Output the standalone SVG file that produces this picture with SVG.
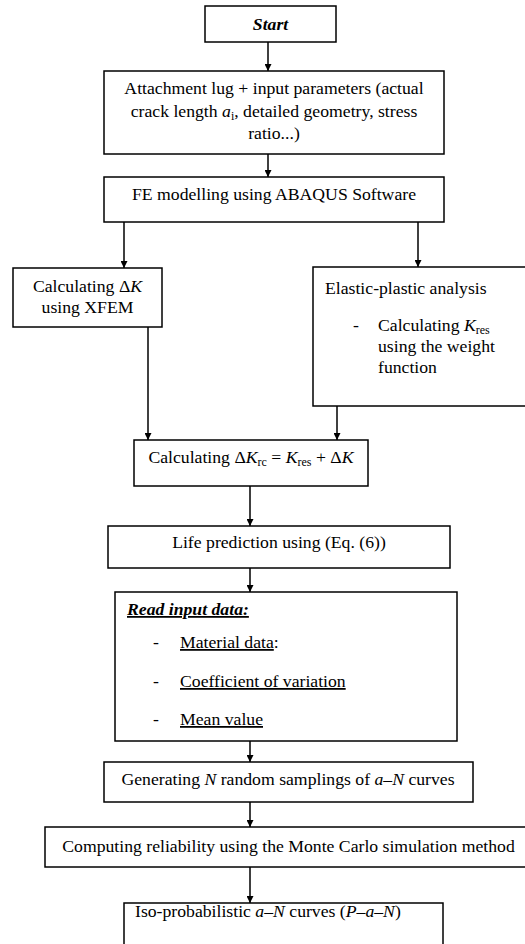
<svg xmlns="http://www.w3.org/2000/svg" width="525" height="944" viewBox="0 0 525 944" font-family="'Liberation Serif', 'Times New Roman', Times, 'DejaVu Serif', serif">
<style>
.box{fill:#fff;stroke:#000;stroke-width:1.5}
.t{font-family:'Liberation Serif','Times New Roman',Times,'DejaVu Serif',serif;font-size:17.7px;fill:#000}
.c{text-anchor:middle}
.i{font-style:italic}
.bi{font-weight:bold;font-style:italic}
.u{text-decoration:underline}
.sub{font-size:12px}
.con{stroke:#000;stroke-width:1.5;fill:none;marker-end:url(#ah)}
</style>
<defs>
<marker id="ah" viewBox="0 0 10 10" refX="10" refY="5" markerWidth="7" markerHeight="7" markerUnits="userSpaceOnUse" orient="auto">
<path d="M0,0 L10,5 L0,10 z" fill="#000"/>
</marker>
</defs>
<rect width="525" height="944" fill="#fff"/>
<g id="connectors">
<line class="con" x1="268" y1="42" x2="268" y2="71"/>
<line class="con" x1="268" y1="154" x2="268" y2="177"/>
<line class="con" x1="124" y1="222" x2="124" y2="268"/>
<line class="con" x1="418" y1="222" x2="418" y2="267"/>
<line class="con" x1="148" y1="327" x2="148" y2="440"/>
<line class="con" x1="337" y1="406" x2="337" y2="440"/>
<line class="con" x1="250" y1="486" x2="250" y2="526"/>
<line class="con" x1="250" y1="568" x2="250" y2="592"/>
<line class="con" x1="250" y1="741" x2="250" y2="762"/>
<line class="con" x1="250" y1="802" x2="250" y2="827"/>
<line class="con" x1="250" y1="867" x2="250" y2="903"/>
</g>
<g id="start">
<rect class="box" x="205" y="6" width="131" height="36"/>
<text class="t c bi" x="270.5" y="30">Start</text>
</g>
<g id="input">
<rect class="box" x="104" y="71" width="340" height="83"/>
<text class="t c" x="274" y="94">Attachment lug + input parameters (actual</text>
<text class="t c" x="274" y="117">crack length <tspan class="i">a</tspan><tspan class="sub" dy="3">i</tspan><tspan dy="-3">, detailed geometry, stress</tspan></text>
<text class="t c" x="274" y="139">ratio...)</text>
</g>
<g id="fe">
<rect class="box" x="104" y="177" width="340" height="45"/>
<text class="t c" x="274" y="200">FE modelling using ABAQUS Software</text>
</g>
<g id="xfem">
<rect class="box" x="13" y="268" width="149" height="59"/>
<text class="t c" x="87.5" y="292">Calculating Δ<tspan class="i">K</tspan></text>
<text class="t c" x="87.5" y="313">using XFEM</text>
</g>
<g id="elastic">
<rect class="box" x="313" y="267" width="220" height="139"/>
<text class="t" x="325" y="294">Elastic-plastic analysis</text>
<text class="t" x="353" y="331">-</text>
<text class="t" x="378" y="331">Calculating <tspan class="i">K</tspan><tspan class="sub" dy="3">res</tspan></text>
<text class="t" x="378" y="352">using the weight</text>
<text class="t" x="378" y="373">function</text>
</g>
<g id="krc">
<rect class="box" x="134" y="440" width="234" height="46"/>
<text class="t c" x="251" y="463">Calculating Δ<tspan class="i">K</tspan><tspan class="sub" dy="3">rc</tspan><tspan dy="-3"> = </tspan><tspan class="i">K</tspan><tspan class="sub" dy="3">res</tspan><tspan dy="-3"> + Δ</tspan><tspan class="i">K</tspan></text>
</g>
<g id="life">
<rect class="box" x="108" y="526" width="342" height="42"/>
<text class="t c" x="279" y="548">Life prediction using (Eq. (6))</text>
</g>
<g id="read">
<rect class="box" x="115" y="592" width="342" height="149"/>
<text class="t bi u" x="127" y="615">Read input data:</text>
<text class="t" x="153" y="648">-</text>
<text class="t" x="180" y="648"><tspan class="u">Material data</tspan>:</text>
<text class="t" x="153" y="687">-</text>
<text class="t u" x="180" y="687">Coefficient of variation</text>
<text class="t" x="153" y="725">-</text>
<text class="t u" x="180" y="725">Mean value</text>
</g>
<g id="generating">
<rect class="box" x="104" y="762" width="369" height="40"/>
<text class="t c" x="288" y="785">Generating <tspan class="i">N</tspan> random samplings of <tspan class="i">a</tspan>–<tspan class="i">N</tspan> curves</text>
</g>
<g id="computing">
<rect class="box" x="45" y="827" width="490" height="40"/>
<text class="t c" x="288.5" y="852">Computing reliability using the Monte Carlo simulation method</text>
</g>
<g id="iso">
<rect class="box" x="124" y="903" width="319" height="50"/>
<text class="t" x="135" y="917">Iso-probabilistic <tspan class="i">a</tspan>–<tspan class="i">N</tspan> curves (<tspan class="i">P</tspan>–<tspan class="i">a</tspan>–<tspan class="i">N</tspan>)</text>
</g>
</svg>
